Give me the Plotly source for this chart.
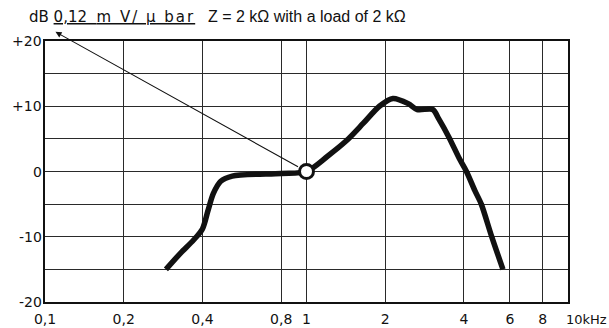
import math
import plotly.graph_objects as go

# Frequency response of the microphone (frequency in kHz, level in dB re 1 kHz)
freq_khz = [0.29, 0.33, 0.37, 0.40, 0.42, 0.44, 0.47, 0.52, 0.8,
            1.0, 1.2, 1.42, 1.65, 1.9, 2.14, 2.45, 2.65, 3.04, 3.2, 3.5,
            3.85, 4.09, 4.4, 4.66, 5.1, 5.64]
level_db = [-15, -12.5, -10.5, -8.8, -6.0, -3.4, -1.5, -0.7, -0.3,
            0, 2.3, 4.7, 7.4, 10.0, 11.2, 10.4, 9.5, 9.5, 8.1, 5.3,
            1.9, 0, -2.9, -5.0, -9.9, -15.0]

# Reference point (sensitivity 0.12 mV/µbar at 1 kHz)
ref_freq = [1.0]
ref_db = [0.0]

x_tick_vals = [0.1, 0.2, 0.4, 0.8, 1, 2, 4, 6, 8]
x_tick_text = ["0,1", "0,2", "0,4", "0,8", "1", "2", "4", "6", "8"]
y_grid_vals = [-20, -15, -10, -5, 0, 5, 10, 15, 20]
y_label_vals = [-20, -10, 0, 10, 20]
y_label_text = ["-20", "-10", "0", "+10", "+20"]

W, H = 609, 328
L, R, T, B = 45, 41, 41, 26
PW, PH = W - L - R, H - T - B


def px(xp):
    return (xp - L) / PW


def py(yp):
    return (H - B - yp) / PH


ink = "#111111"
grid = "#2a2a2a"
tick_font = dict(family="DejaVu Sans", size=14, color=ink)

fig = go.Figure()

fig.add_trace(go.Scatter(
    x=freq_khz, y=level_db, mode="lines",
    line=dict(color=ink, width=5.5, shape="spline", smoothing=0.8),
    hoverinfo="skip", showlegend=False,
))

fig.add_trace(go.Scatter(
    x=ref_freq, y=ref_db, mode="markers",
    marker=dict(symbol="circle", size=14, color="white",
                line=dict(color=ink, width=3)),
    hoverinfo="skip", showlegend=False, cliponaxis=False,
))

# Pointer from the 1 kHz reference point up to the sensitivity figure
fig.add_annotation(
    x=-0.96, y=21.4, xref="x", yref="y",
    ax=math.log10(ref_freq[0]), ay=ref_db[0], axref="x", ayref="y",
    showarrow=True, arrowhead=2, arrowsize=1.1, arrowwidth=1.1,
    arrowcolor=ink, startstandoff=8, text="",
)

# Level labels set tight against the left frame
for val, txt in zip(y_label_vals, y_label_text):
    fig.add_annotation(x=px(44), y=val, xref="paper", yref="y",
                       xanchor="right", yanchor="middle", showarrow=False,
                       text=txt, font=tick_font)

# Header line
header = ("dB&nbsp;<u>0,12&nbsp;&nbsp;"
          "<span style='letter-spacing:2px'>m V/ µ bar</span></u>")
fig.add_annotation(x=px(27), y=py(17), xref="paper", yref="paper",
                   xanchor="left", yanchor="middle", showarrow=False,
                   text=header,
                   font=dict(family="DejaVu Sans", size=15, color=ink))
fig.add_annotation(x=px(206), y=py(17), xref="paper", yref="paper",
                   xanchor="left", yanchor="middle", showarrow=False,
                   text="Z = 2 kΩ with a load of 2 kΩ",
                   font=dict(family="Liberation Sans", size=16, color=ink))

# Last frequency label with unit
fig.add_annotation(x=px(564), y=py(319), xref="paper", yref="paper",
                   xanchor="left", yanchor="middle", showarrow=False,
                   text="10kHz", font=dict(family="DejaVu Sans", size=13, color=ink))

fig.update_xaxes(
    type="log", range=[-1, 1],
    tickvals=x_tick_vals, ticktext=x_tick_text, tickfont=tick_font,
    ticklabelstandoff=3, automargin=False,
    showgrid=True, gridcolor=grid, gridwidth=1.4,
    showline=True, linecolor=ink, linewidth=2.2, mirror=True,
    ticks="", zeroline=False, fixedrange=True,
)
fig.update_yaxes(
    range=[-20, 20],
    tickvals=y_grid_vals, showticklabels=False, automargin=False,
    showgrid=True, gridcolor=grid, gridwidth=1.4,
    showline=True, linecolor=ink, linewidth=2.2, mirror=True,
    ticks="", zeroline=False, fixedrange=True,
)

fig.update_layout(
    width=W, height=H,
    margin=dict(l=L, r=R, t=T, b=B, pad=0),
    paper_bgcolor="white", plot_bgcolor="white",
    showlegend=False,
)

fig.write_html("out.html", config={"displayModeBar": False})
